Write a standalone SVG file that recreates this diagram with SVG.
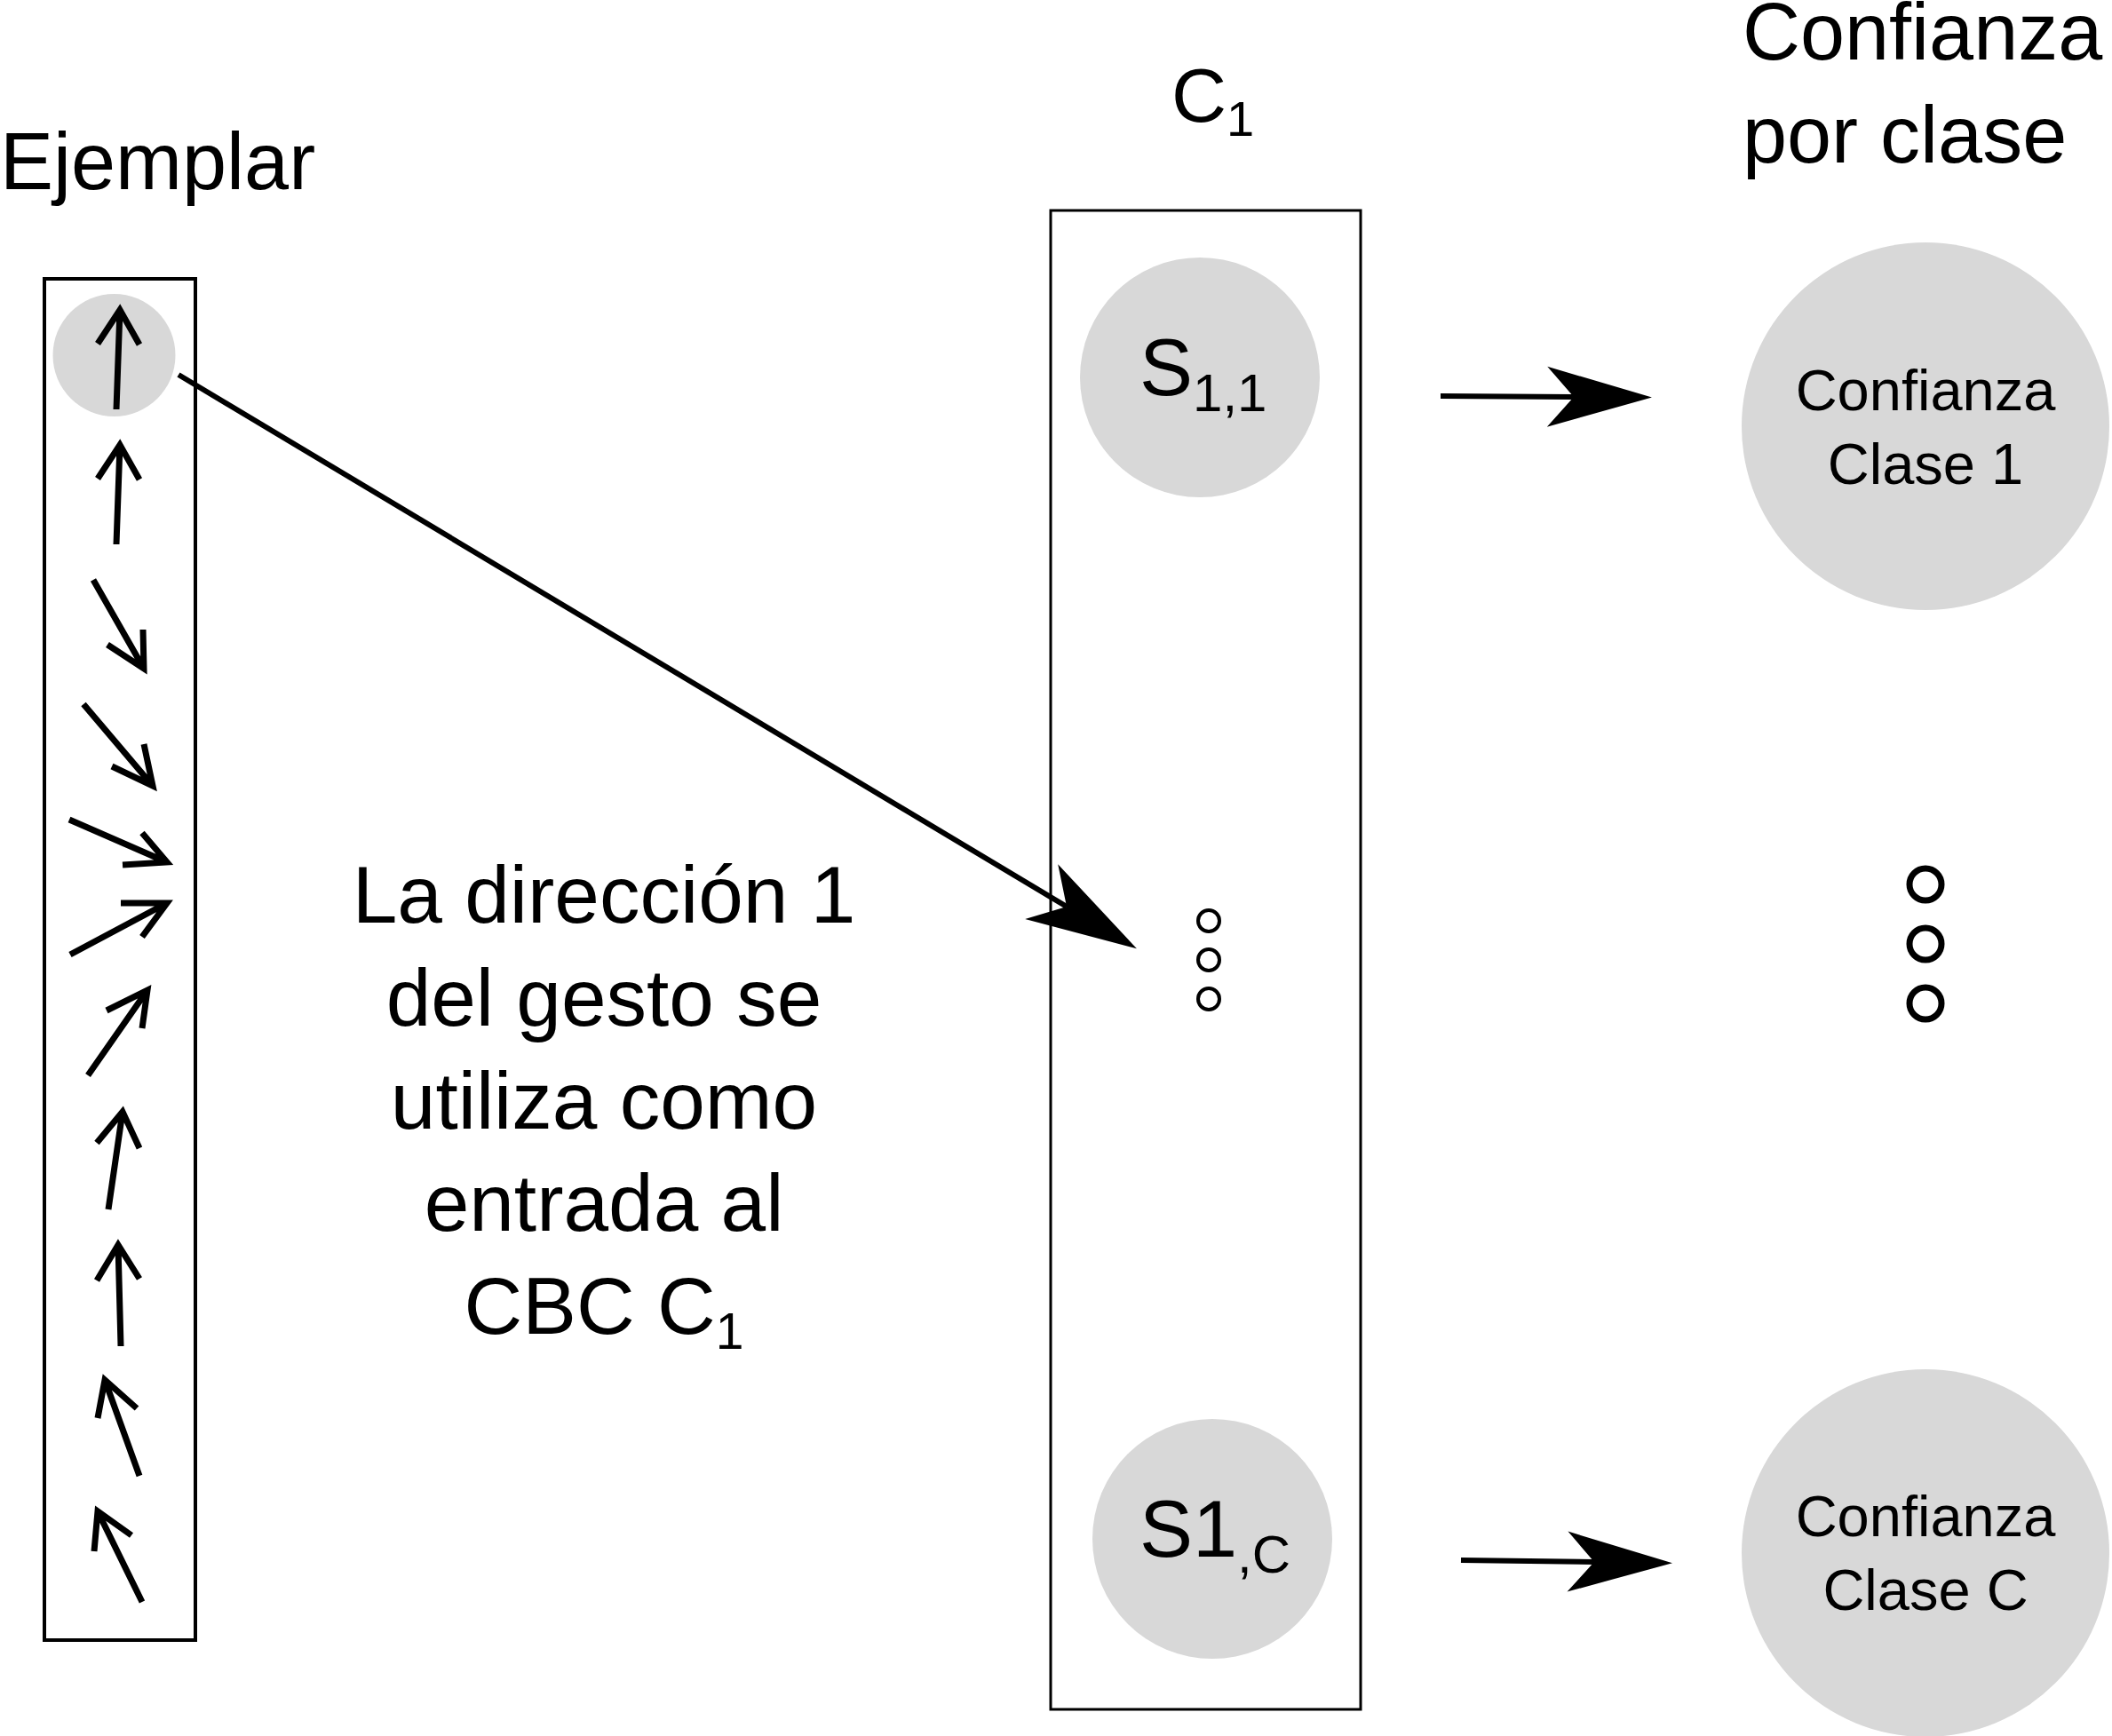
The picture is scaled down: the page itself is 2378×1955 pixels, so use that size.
<svg xmlns="http://www.w3.org/2000/svg" width="2378" height="1955" viewBox="0 0 2378 1955">
<style>
text{font-family:"Liberation Sans",Arial,sans-serif;fill:#000}
.t90{font-size:90px}
.t91{font-size:91px}
.t65{font-size:65px}
.box{fill:none;stroke:#000}
.blob{fill:#d8d8d8;stroke:none}
.dot{fill:none;stroke:#000}
.conn{fill:none;stroke:#000;stroke-width:6}
.dir{fill:none;stroke:#000;stroke-width:7;stroke-linecap:butt;stroke-linejoin:miter}
</style>
<defs>
<marker id="headL" markerUnits="userSpaceOnUse" viewBox="-36 -38 130 76" markerWidth="130" markerHeight="76" refX="0" refY="0" orient="auto">
<path d="M0,0 L-33,-36 L92,0 L-33,36 Z" fill="#000"/>
</marker>
<marker id="headS" markerUnits="userSpaceOnUse" viewBox="-32 -36 122 72" markerWidth="122" markerHeight="72" refX="0" refY="0" orient="auto">
<path d="M0,0 L-30,-34 L88,0 L-30,34 Z" fill="#000"/>
</marker>
</defs>
<rect width="2378" height="1955" fill="#fff"/>

<g id="title-ejemplar"><text class="t90" x="0" y="213">Ejemplar</text></g>
<g id="title-c1"><text class="t90" x="1319" y="137" style="font-size:86px">C<tspan style="font-size:56px" dy="16">1</tspan></text></g>
<g id="title-confianza"><text class="t90" x="1962" y="67">Confianza</text><text class="t90" x="1962" y="183">por clase</text></g>

<g id="ejemplar">
<rect class="box" x="50" y="314" width="170" height="1533" stroke-width="4"/>
<circle class="blob" cx="128.5" cy="400" r="69"/>
<path class="dir" d="M131,461 L135,349 M110,387 L135,349 L157,388"/>
<path class="dir" d="M131,613 L135,501 M110,539 L135,501 L157,540"/>
<path class="dir" d="M105,653 L162,753 M121,726 L162,753 L161,709"/>
<path class="dir" d="M94,793 L172,885 M126,863 L172,885 L162,838"/>
<path class="dir" d="M78,923 L188,971 M160,938 L188,971 L138,974"/>
<path class="dir" d="M79,1075 L188,1017 M136,1017 L188,1017 L160,1055"/>
<path class="dir" d="M99,1211 L166,1115 M120,1138 L166,1115 L160,1158"/>
<path class="dir" d="M122,1362 L138,1252 M109,1287 L138,1252 L157,1293"/>
<path class="dir" d="M136,1516 L133,1402 M109,1442 L133,1402 L157,1440"/>
<path class="dir" d="M157,1662 L118,1554 M110,1597 L118,1554 L154,1586"/>
<path class="dir" d="M160,1804 L110,1702 M106,1747 L110,1702 L148,1729"/>
</g>

<g id="label-direccion">
<text class="t91" text-anchor="middle" x="680" y="1039">La dirección 1</text>
<text class="t91" text-anchor="middle" x="680" y="1155">del gesto se</text>
<text class="t91" text-anchor="middle" x="680" y="1271">utiliza como</text>
<text class="t91" text-anchor="middle" x="680" y="1386">entrada al</text>
<text class="t91" text-anchor="middle" x="680" y="1502">CBC C<tspan style="font-size:57px" dy="17">1</tspan></text>
</g>

<g id="c1-box"><rect class="box" x="1183" y="237" width="349" height="1688" stroke-width="3"/></g>
<g id="s11"><circle class="blob" cx="1351" cy="425" r="135"/><text class="t90" x="1283" y="445">S<tspan style="font-size:60px" dy="18">1,1</tspan></text></g>
<g id="dots-mid">
<circle class="dot" cx="1361" cy="1037" r="12" stroke-width="4"/>
<circle class="dot" cx="1361" cy="1081" r="12" stroke-width="4"/>
<circle class="dot" cx="1361" cy="1125" r="12" stroke-width="4"/>
</g>
<g id="s1c"><circle class="blob" cx="1365" cy="1733" r="135"/><text class="t90" x="1283" y="1753">S1<tspan style="font-size:60px" dy="18">,C</tspan></text></g>

<g id="conf1"><circle class="blob" cx="2168" cy="480" r="207"/><text class="t65" text-anchor="middle" x="2168" y="462">Confianza</text><text class="t65" text-anchor="middle" x="2168" y="545">Clase 1</text></g>
<g id="dots-right">
<circle class="dot" cx="2168" cy="996" r="18" stroke-width="7"/>
<circle class="dot" cx="2168" cy="1063" r="18" stroke-width="7"/>
<circle class="dot" cx="2168" cy="1130" r="18" stroke-width="7"/>
</g>
<g id="confC"><circle class="blob" cx="2168" cy="1749" r="207"/><text class="t65" text-anchor="middle" x="2168" y="1730">Confianza</text><text class="t65" text-anchor="middle" x="2168" y="1813">Clase C</text></g>

<g id="connectors">
<line class="conn" x1="201" y1="422" x2="1201" y2="1021" marker-end="url(#headL)"/>
<line class="conn" x1="1622" y1="446" x2="1772" y2="447" marker-end="url(#headS)"/>
<line class="conn" x1="1645" y1="1757" x2="1795" y2="1759" marker-end="url(#headS)"/>
</g>
</svg>
